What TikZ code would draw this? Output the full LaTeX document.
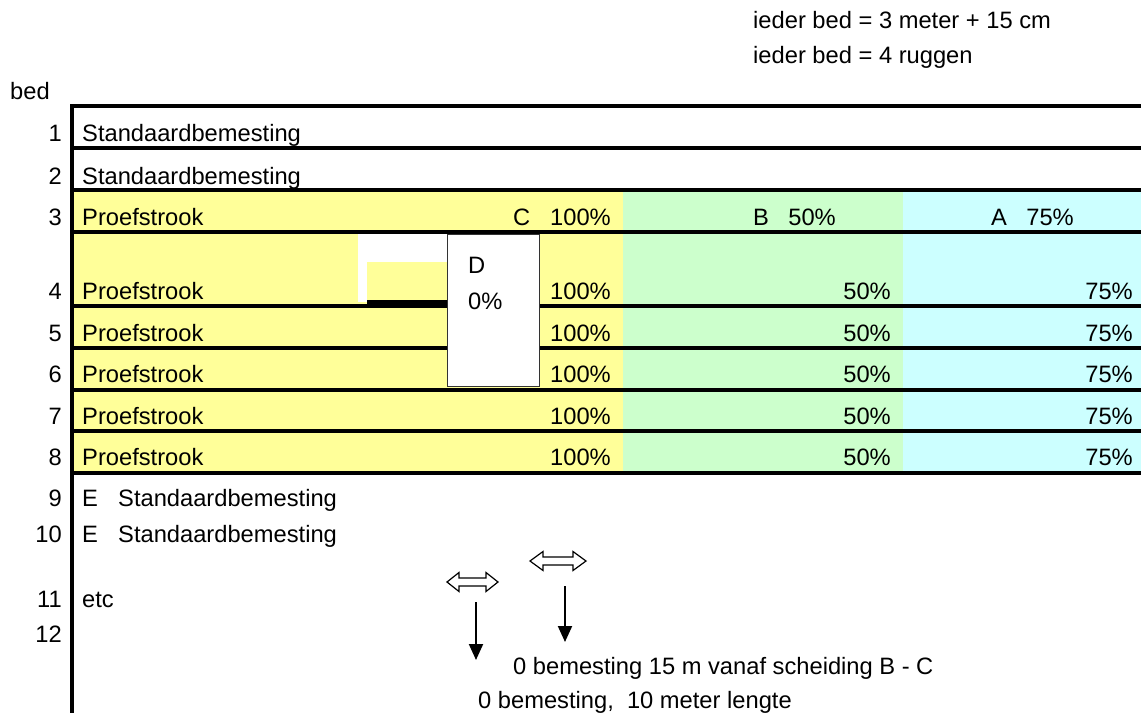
\documentclass[tikz,border=0pt]{standalone}
\usepackage{fontspec}
\setmainfont{Liberation Sans}
\usetikzlibrary{arrows.meta}

\definecolor{geel}{HTML}{FFFF99}
\definecolor{groen}{HTML}{CCFFCC}
\definecolor{blauw}{HTML}{CCFFFF}

\tikzset{
    tekst/.style={inner sep=0pt, anchor=base west, font=\fontsize{23.7}{28}\selectfont},
    rtekst/.style={tekst, anchor=base east},
    lijn/.style={line width=3.5pt},
    pijl/.style={line width=2pt, -{Triangle[width=14pt,length=16pt]}},
    dpijl/.style={line width=1.2pt, fill=white},
}

\begin{document}
\begin{tikzpicture}[x=1pt,y=-1pt]
        \useasboundingbox (0,0) rectangle (1141,713);

        % vlakken
        \fill[geel] (72,190) rectangle (623,473);
        \fill[groen] (623,190) rectangle (903,473);
        \fill[blauw] (903,190) rectangle (1141,473);
        \fill[white] (358,232) rectangle (447,262);
        \fill[white] (358,232) rectangle (367,302);

        % lijnen
        \foreach \y in {106,148,190,232,306,348,390,431,473}
            \draw[lijn] (72,\y) -- (1141,\y);
        \fill (367,300) rectangle (447,307);
        \draw[lijn] (72,104) -- (72,713);

        % vak D
        \node[draw=black!80, fill=white, line width=0.8pt, inner sep=0pt,
              minimum width=92pt, minimum height=152pt, anchor=north west] (vakD) at (447,234) {};
        \node[tekst] (D) at (468,273) {D};
        \node[tekst] (D0) at (468,309) {0\%};

        % kop
        \node[tekst] (info1) at (753,28) {ieder bed = 3 meter + 15 cm};
        \node[tekst] (info2) at (753,63) {ieder bed = 4 ruggen};
        \node[tekst] (bed) at (10,99) {bed};

        % bednummers
        \foreach \r/\y in {1/141,2/184,3/225,4/299,5/341,6/382,7/424,8/465,9/506,10/542,11/607,12/642}
            \node[rtekst] (nr\r) at (62,\y) {\r};

        \node[tekst] (rij1) at (82,141) {Standaardbemesting};
        \node[tekst] (rij2) at (82,184) {Standaardbemesting};

        \node[tekst] (rij3) at (82,225) {Proefstrook};
        \node[tekst] (C) at (513,225) {C};
        \node[rtekst] (C3) at (611,225) {100\%};
        \node[tekst] (B) at (753,225) {B};
        \node[rtekst] (B3) at (836,225) {50\%};
        \node[tekst] (A) at (991,225) {A};
        \node[rtekst] (A3) at (1074,225) {75\%};

        \foreach \r/\y in {4/299,5/341,6/382,7/424,8/465} {
            \node[tekst] (rij\r) at (82,\y) {Proefstrook};
            \node[rtekst] (C\r) at (611,\y) {100\%};
            \node[rtekst] (B\r) at (891,\y) {50\%};
            \node[rtekst] (A\r) at (1133,\y) {75\%};
        }

        \node[tekst] (E9) at (82,506) {E};
        \node[tekst] (rij9) at (118,506) {Standaardbemesting};
        \node[tekst] (E10) at (82,542) {E};
        \node[tekst] (rij10) at (118,542) {Standaardbemesting};
        \node[tekst] (rij11) at (82,607) {etc};

        % pijlen
        \draw[dpijl] (447,582) -- ++(12,-9.5) -- ++(0,5.5) -- ++(27,0) -- ++(0,-5.5)
            -- ++(12,9.5) -- ++(-12,9.5) -- ++(0,-5.5) -- ++(-27,0) -- ++(0,5.5) -- cycle;
        \draw[dpijl] (530,561) -- ++(13,-9.5) -- ++(0,5.5) -- ++(30,0) -- ++(0,-5.5)
            -- ++(13,9.5) -- ++(-13,9.5) -- ++(0,-5.5) -- ++(-30,0) -- ++(0,5.5) -- cycle;

        \coordinate (p1a) at (476,602);
        \coordinate (p1b) at (476,660);
        \coordinate (p2a) at (565,586);
        \coordinate (p2b) at (565,642);
        \draw[pijl] (p1a) -- (p1b);
        \draw[pijl] (p2a) -- (p2b);

        \node[tekst] (noot1) at (513,674) {0 bemesting 15 m vanaf scheiding B - C};
        \node[tekst] (noot2) at (478,708) {0 bemesting,\ \ 10 meter lengte};
    \end{tikzpicture}
\end{document}
